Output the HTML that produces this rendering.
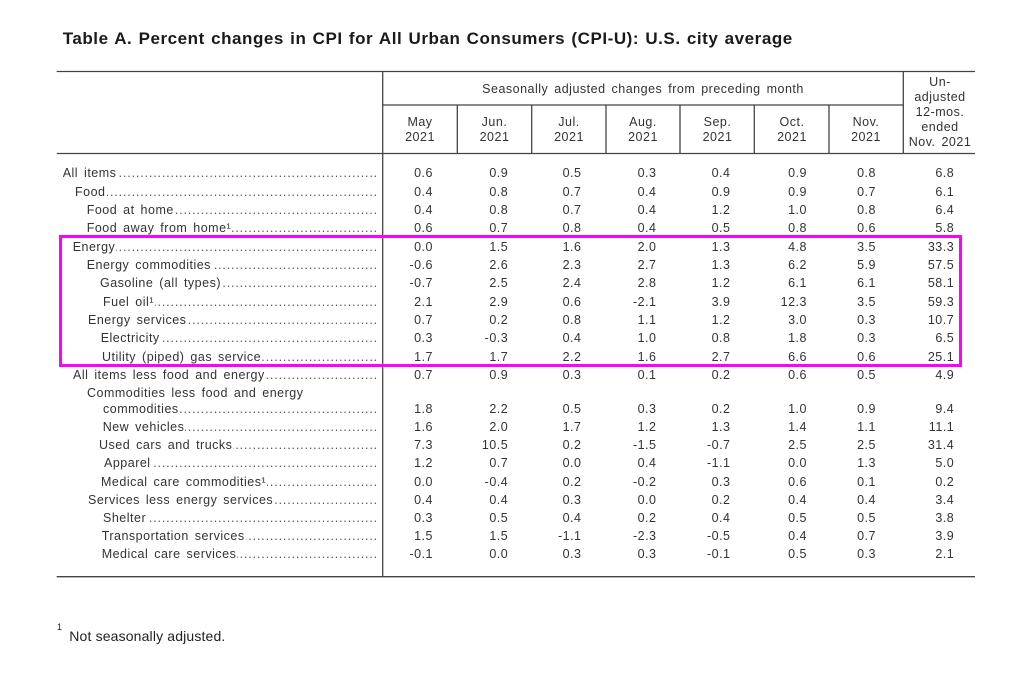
<!DOCTYPE html>
<html><head><meta charset="utf-8">
<style>
html,body{margin:0;padding:0;background:#fff;}
#pg{position:relative;width:1024px;height:693px;overflow:hidden;background:#fff;font-family:"Liberation Sans",Arial,sans-serif;color:#333;}
.t{position:absolute;left:62.7px;top:29.1px;font-size:17px;font-weight:bold;line-height:20px;letter-spacing:0.55px;word-spacing:1px;color:#1a1a1a;white-space:nowrap;}
.r{position:absolute;left:0;width:1024px;height:16px;font-size:12.5px;line-height:16px;letter-spacing:0.5px;word-spacing:2px;white-space:nowrap;}
.l{position:absolute;right:646px;top:0;height:16px;display:flex;overflow:hidden;}
.l .n{flex:none;}
.l .d{flex:1 1 auto;overflow:hidden;direction:rtl;letter-spacing:0.85px;word-spacing:0;color:#555;margin-left:1px;}
.r span.v{position:absolute;top:0;}
.c1{right:591px}.c2{right:515.8px}.c3{right:442.5px}.c4{right:367.5px}.c5{right:293.5px}.c6{right:217px}.c7{right:148px}.c8{right:69.8px}
.h{position:absolute;font-size:12.5px;letter-spacing:0.5px;word-spacing:2px;text-align:center;color:#333;white-space:nowrap;}
.mh{top:115.3px;line-height:14.4px;width:74px;}
.box{position:absolute;left:59px;top:235px;width:903px;height:132px;box-sizing:border-box;border:3px solid #ff00ff;}
.fn{position:absolute;left:69.3px;top:628.2px;font-size:14px;line-height:16px;letter-spacing:0.15px;color:#222;white-space:nowrap;}
.fs{position:absolute;left:57px;top:622px;font-size:9px;line-height:10px;color:#222;}
</style></head><body>
<div id="pg">
<svg width="1024" height="693" style="position:absolute;left:0;top:0" xmlns="http://www.w3.org/2000/svg">
<g stroke="#444" stroke-width="1.3" fill="none">
<line x1="56.7" y1="71.5" x2="975" y2="71.5"/>
<line x1="383" y1="105" x2="903.3" y2="105"/>
<line x1="56.7" y1="153.5" x2="975" y2="153.5"/>
<line x1="56.7" y1="576.7" x2="975" y2="576.7"/>
<line x1="382.7" y1="71" x2="382.7" y2="577"/>
<line x1="457.3" y1="105" x2="457.3" y2="153.5"/>
<line x1="531.7" y1="105" x2="531.7" y2="153.5"/>
<line x1="606" y1="105" x2="606" y2="153.5"/>
<line x1="680" y1="105" x2="680" y2="153.5"/>
<line x1="754.3" y1="105" x2="754.3" y2="153.5"/>
<line x1="829" y1="105" x2="829" y2="153.5"/>
<line x1="903.3" y1="71" x2="903.3" y2="153.5"/>
</g>
</svg>

<div class="t">Table A. Percent changes in CPI for All Urban Consumers (CPI-U): U.S. city average</div>

<div class="h" style="left:383px;width:520px;top:80.5px;line-height:16px;">Seasonally adjusted changes from preceding month</div>
<div class="h mh" style="left:383px">May<br>2021</div>
<div class="h mh" style="left:457.5px">Jun.<br>2021</div>
<div class="h mh" style="left:532px">Jul.<br>2021</div>
<div class="h mh" style="left:606px">Aug.<br>2021</div>
<div class="h mh" style="left:680.5px">Sep.<br>2021</div>
<div class="h mh" style="left:755px">Oct.<br>2021</div>
<div class="h mh" style="left:829px">Nov.<br>2021</div>
<div class="h" style="left:903px;width:74px;top:74.6px;line-height:15.2px;">Un-<br>adjusted<br>12-mos.<br>ended<br>Nov. 2021</div>

<div class="r" style="top:165.2px"><div class="l" style="left:62.7px"><span class="n">All items</span><span class="d">................................................................................................</span></div><span class="v c1">0.6</span><span class="v c2">0.9</span><span class="v c3">0.5</span><span class="v c4">0.3</span><span class="v c5">0.4</span><span class="v c6">0.9</span><span class="v c7">0.8</span><span class="v c8">6.8</span></div>
<div class="r" style="top:183.55px"><div class="l" style="left:75px"><span class="n">Food</span><span class="d">................................................................................................</span></div><span class="v c1">0.4</span><span class="v c2">0.8</span><span class="v c3">0.7</span><span class="v c4">0.4</span><span class="v c5">0.9</span><span class="v c6">0.9</span><span class="v c7">0.7</span><span class="v c8">6.1</span></div>
<div class="r" style="top:201.9px"><div class="l" style="left:86.7px"><span class="n">Food at home</span><span class="d">................................................................................................</span></div><span class="v c1">0.4</span><span class="v c2">0.8</span><span class="v c3">0.7</span><span class="v c4">0.4</span><span class="v c5">1.2</span><span class="v c6">1.0</span><span class="v c7">0.8</span><span class="v c8">6.4</span></div>
<div class="r" style="top:220.25px"><div class="l" style="left:86.7px"><span class="n">Food away from home¹</span><span class="d">................................................................................................</span></div><span class="v c1">0.6</span><span class="v c2">0.7</span><span class="v c3">0.8</span><span class="v c4">0.4</span><span class="v c5">0.5</span><span class="v c6">0.8</span><span class="v c7">0.6</span><span class="v c8">5.8</span></div>
<div class="r" style="top:238.6px"><div class="l" style="left:72.7px"><span class="n">Energy</span><span class="d">................................................................................................</span></div><span class="v c1">0.0</span><span class="v c2">1.5</span><span class="v c3">1.6</span><span class="v c4">2.0</span><span class="v c5">1.3</span><span class="v c6">4.8</span><span class="v c7">3.5</span><span class="v c8">33.3</span></div>
<div class="r" style="top:256.95px"><div class="l" style="left:86.7px"><span class="n">Energy commodities</span><span class="d">................................................................................................</span></div><span class="v c1">-0.6</span><span class="v c2">2.6</span><span class="v c3">2.3</span><span class="v c4">2.7</span><span class="v c5">1.3</span><span class="v c6">6.2</span><span class="v c7">5.9</span><span class="v c8">57.5</span></div>
<div class="r" style="top:275.3px"><div class="l" style="left:100px"><span class="n">Gasoline (all types)</span><span class="d">................................................................................................</span></div><span class="v c1">-0.7</span><span class="v c2">2.5</span><span class="v c3">2.4</span><span class="v c4">2.8</span><span class="v c5">1.2</span><span class="v c6">6.1</span><span class="v c7">6.1</span><span class="v c8">58.1</span></div>
<div class="r" style="top:293.65px"><div class="l" style="left:103px"><span class="n">Fuel oil¹</span><span class="d">................................................................................................</span></div><span class="v c1">2.1</span><span class="v c2">2.9</span><span class="v c3">0.6</span><span class="v c4">-2.1</span><span class="v c5">3.9</span><span class="v c6">12.3</span><span class="v c7">3.5</span><span class="v c8">59.3</span></div>
<div class="r" style="top:312px"><div class="l" style="left:88px"><span class="n">Energy services</span><span class="d">................................................................................................</span></div><span class="v c1">0.7</span><span class="v c2">0.2</span><span class="v c3">0.8</span><span class="v c4">1.1</span><span class="v c5">1.2</span><span class="v c6">3.0</span><span class="v c7">0.3</span><span class="v c8">10.7</span></div>
<div class="r" style="top:330.35px"><div class="l" style="left:100.7px"><span class="n">Electricity</span><span class="d">................................................................................................</span></div><span class="v c1">0.3</span><span class="v c2">-0.3</span><span class="v c3">0.4</span><span class="v c4">1.0</span><span class="v c5">0.8</span><span class="v c6">1.8</span><span class="v c7">0.3</span><span class="v c8">6.5</span></div>
<div class="r" style="top:348.7px"><div class="l" style="left:102px"><span class="n">Utility (piped) gas service</span><span class="d">................................................................................................</span></div><span class="v c1">1.7</span><span class="v c2">1.7</span><span class="v c3">2.2</span><span class="v c4">1.6</span><span class="v c5">2.7</span><span class="v c6">6.6</span><span class="v c7">0.6</span><span class="v c8">25.1</span></div>
<div class="r" style="top:367.05px"><div class="l" style="left:73px"><span class="n">All items less food and energy</span><span class="d">................................................................................................</span></div><span class="v c1">0.7</span><span class="v c2">0.9</span><span class="v c3">0.3</span><span class="v c4">0.1</span><span class="v c5">0.2</span><span class="v c6">0.6</span><span class="v c7">0.5</span><span class="v c8">4.9</span></div>
<div class="r" style="top:384.7px"><div class="l" style="left:87px"><span class="n">Commodities less food and energy</span></div></div>
<div class="r" style="top:400.7px"><div class="l" style="left:103px"><span class="n">commodities</span><span class="d">................................................................................................</span></div><span class="v c1">1.8</span><span class="v c2">2.2</span><span class="v c3">0.5</span><span class="v c4">0.3</span><span class="v c5">0.2</span><span class="v c6">1.0</span><span class="v c7">0.9</span><span class="v c8">9.4</span></div>
<div class="r" style="top:418.9px"><div class="l" style="left:102.7px"><span class="n">New vehicles</span><span class="d">................................................................................................</span></div><span class="v c1">1.6</span><span class="v c2">2.0</span><span class="v c3">1.7</span><span class="v c4">1.2</span><span class="v c5">1.3</span><span class="v c6">1.4</span><span class="v c7">1.1</span><span class="v c8">11.1</span></div>
<div class="r" style="top:437.2px"><div class="l" style="left:99px"><span class="n">Used cars and trucks</span><span class="d">................................................................................................</span></div><span class="v c1">7.3</span><span class="v c2">10.5</span><span class="v c3">0.2</span><span class="v c4">-1.5</span><span class="v c5">-0.7</span><span class="v c6">2.5</span><span class="v c7">2.5</span><span class="v c8">31.4</span></div>
<div class="r" style="top:455.4px"><div class="l" style="left:104px"><span class="n">Apparel</span><span class="d">................................................................................................</span></div><span class="v c1">1.2</span><span class="v c2">0.7</span><span class="v c3">0.0</span><span class="v c4">0.4</span><span class="v c5">-1.1</span><span class="v c6">0.0</span><span class="v c7">1.3</span><span class="v c8">5.0</span></div>
<div class="r" style="top:473.6px"><div class="l" style="left:101px"><span class="n">Medical care commodities¹</span><span class="d">................................................................................................</span></div><span class="v c1">0.0</span><span class="v c2">-0.4</span><span class="v c3">0.2</span><span class="v c4">-0.2</span><span class="v c5">0.3</span><span class="v c6">0.6</span><span class="v c7">0.1</span><span class="v c8">0.2</span></div>
<div class="r" style="top:491.8px"><div class="l" style="left:88px"><span class="n">Services less energy services</span><span class="d">................................................................................................</span></div><span class="v c1">0.4</span><span class="v c2">0.4</span><span class="v c3">0.3</span><span class="v c4">0.0</span><span class="v c5">0.2</span><span class="v c6">0.4</span><span class="v c7">0.4</span><span class="v c8">3.4</span></div>
<div class="r" style="top:510px"><div class="l" style="left:103px"><span class="n">Shelter</span><span class="d">................................................................................................</span></div><span class="v c1">0.3</span><span class="v c2">0.5</span><span class="v c3">0.4</span><span class="v c4">0.2</span><span class="v c5">0.4</span><span class="v c6">0.5</span><span class="v c7">0.5</span><span class="v c8">3.8</span></div>
<div class="r" style="top:528.2px"><div class="l" style="left:101.7px"><span class="n">Transportation services</span><span class="d">................................................................................................</span></div><span class="v c1">1.5</span><span class="v c2">1.5</span><span class="v c3">-1.1</span><span class="v c4">-2.3</span><span class="v c5">-0.5</span><span class="v c6">0.4</span><span class="v c7">0.7</span><span class="v c8">3.9</span></div>
<div class="r" style="top:546.4px"><div class="l" style="left:101.7px"><span class="n">Medical care services</span><span class="d">................................................................................................</span></div><span class="v c1">-0.1</span><span class="v c2">0.0</span><span class="v c3">0.3</span><span class="v c4">0.3</span><span class="v c5">-0.1</span><span class="v c6">0.5</span><span class="v c7">0.3</span><span class="v c8">2.1</span></div>

<div class="box"></div>

<div class="fs">1</div>
<div class="fn">Not seasonally adjusted.</div>
</div>
</body></html>
